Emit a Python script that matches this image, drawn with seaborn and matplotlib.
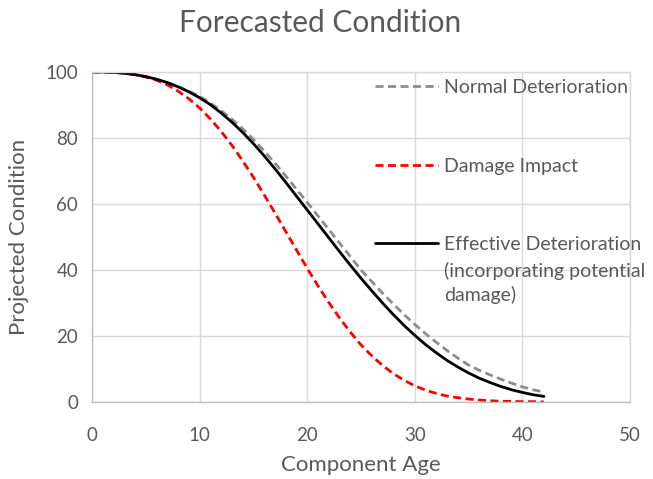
import matplotlib
matplotlib.use("Agg")
import matplotlib.pyplot as plt
import seaborn as sns
import pandas as pd

# ---- data ----
age = list(range(0, 43))
normal = [100, 100, 99.9, 99.6, 99.2, 98.6, 97.8, 96.8, 95.6, 94.2, 92.6, 90.6, 88.3, 85.7,
          82.8, 79.6, 76.1, 72.4, 68.5, 64.5, 60.5, 56.4, 52.3, 48.2, 44.1, 40.0, 36.5, 33.0,
          29.7, 26.5, 23.5, 20.7, 18.1, 15.6, 13.3, 11.2, 9.6, 8.2, 6.9, 5.7, 4.6, 3.7, 3.0]
damage = [100, 100, 99.9, 99.7, 99.2, 98.5, 97.5, 96.1, 94.2, 91.9, 89.1, 85.8, 82.0, 77.8,
          73.1, 68.1, 62.8, 57.3, 51.7, 46.1, 40.5, 35.2, 30.2, 25.5, 21.2, 17.3, 14.0, 11.1,
          8.6, 6.6, 4.9, 3.6, 2.6, 1.8, 1.3, 0.9, 0.6, 0.4, 0.2, 0.2, 0.1, 0.1, 0.0]
effective = [100, 100, 99.9, 99.6, 99.2, 98.6, 97.8, 96.8, 95.5, 94.0, 92.2, 90.1, 87.6, 84.8,
             81.7, 78.3, 74.6, 70.7, 66.6, 62.4, 58.2, 54.0, 49.8, 45.6, 41.5, 37.5, 33.7, 30.0,
             26.5, 23.2, 20.2, 17.4, 14.9, 12.6, 10.6, 8.8, 7.2, 5.9, 4.7, 3.7, 2.9, 2.2, 1.7]
series_names = ["Normal Deterioration", "Damage Impact", "Effective Deterioration"]
effective_note = "(incorporating potential\ndamage)"
title = "Forecasted Condition"
x_label = "Component Age"
y_label = "Projected Condition"
x_ticks = [0, 10, 20, 30, 40, 50]
y_ticks = [0, 20, 40, 60, 80, 100]

df = pd.DataFrame({"age": age, "normal": normal, "damage": damage, "effective": effective})

sns.set_theme(style="white")
plt.rcParams['font.family'] = ['Lato', 'DejaVu Sans']

TXT = "#595959"
W, H = 653, 479
fig = plt.figure(figsize=(W / 100, H / 100), dpi=100)
ax = fig.add_axes([92 / W, 1 - 402 / H, 538 / W, 330 / H])

sns.lineplot(data=df, x="age", y="normal", ax=ax, color="#8c8c8c", linewidth=2.0,
             linestyle=(0, (2.9, 1.6)), label=series_names[0], legend=False)
sns.lineplot(data=df, x="age", y="damage", ax=ax, color="#ff0000", linewidth=2.0,
             linestyle=(0, (2.9, 1.6)), label=series_names[1], legend=False)
sns.lineplot(data=df, x="age", y="effective", ax=ax, color="#000000", linewidth=2.0,
             label=series_names[2], legend=False)

ax.set_xlim(0, 50)
ax.set_ylim(0, 100)
ax.set_xticks(x_ticks)
ax.set_yticks(y_ticks)
ax.grid(True, color="#d9d9d9", linewidth=1.0)
ax.set_axisbelow(True)
for s in ["top", "right"]:
    ax.spines[s].set_color("#d9d9d9")
    ax.spines[s].set_linewidth(1.0)
for s in ["left", "bottom"]:
    ax.spines[s].set_color("#bfbfbf")
    ax.spines[s].set_linewidth(1.0)
ax.tick_params(axis="both", length=0, labelsize=13.5, labelcolor=TXT)
ax.tick_params(axis="x", pad=18)
ax.tick_params(axis="y", pad=10)
ax.set_xlabel(x_label, fontsize=16, color=TXT, labelpad=8)
ax.set_ylabel(y_label, fontsize=16, color=TXT, labelpad=12)
fig.text(0.49, 1 - 23 / H, title, ha="center", va="center", fontsize=21.5, color=TXT)

handles = ax.get_lines()[:3]
leg = ax.legend(handles, series_names, loc="upper left", bbox_to_anchor=(0.526, 0.978),
                frameon=False, handlelength=3.25, handletextpad=0.3, labelspacing=3.15,
                borderpad=0, borderaxespad=0, fontsize=14, labelcolor=TXT)

fig.canvas.draw()
bb = leg.get_texts()[2].get_window_extent()
fig.text(bb.x0 / W, (bb.y1 - 26) / H, effective_note, ha="left", va="top",
         fontsize=14, color=TXT, linespacing=1.38)

fig.savefig("out.png", dpi=100)
